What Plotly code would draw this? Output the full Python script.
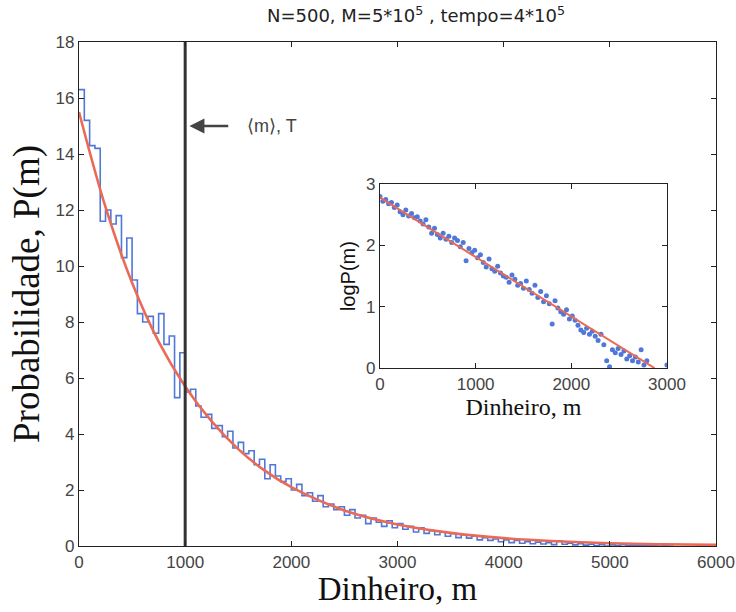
import plotly.graph_objects as go

# ---- main histogram (step line) ----
bin_start = [i * 50 for i in range(113)]
hist_vals = [16.3, 15.2, 14.3, 14.2, 11.6, 12.0, 11.5, 11.8, 10.3, 11.0,
             9.5, 8.3, 8.0, 8.2, 7.6, 8.3, 7.2, 7.5, 5.3, 6.9,
             5.5, 5.6, 5.0, 4.6, 4.7, 4.2, 4.3, 3.9, 4.1, 3.5,
             3.7, 3.3, 3.4, 2.9, 3.1, 2.4, 2.9, 2.5, 2.3, 2.4,
             2.0, 2.2, 1.8, 1.9, 1.6, 1.8, 1.4, 1.5, 1.3, 1.4,
             1.1, 1.3, 1.0, 1.1, 0.8, 1.0, 0.85, 0.7, 0.9, 0.65,
             0.8, 0.6, 0.7, 0.5, 0.65, 0.45, 0.55, 0.4, 0.5, 0.35,
             0.45, 0.3, 0.4, 0.28, 0.35, 0.22, 0.3, 0.2, 0.25, 0.15,
             0.22, 0.12, 0.2, 0.1, 0.15, 0.08, 0.14, 0.07, 0.12, 0.05,
             0.18, 0.06, 0.1, 0.04, 0.08, 0.03, 0.06, 0.02, 0.05, 0.0,
             0.04, 0.02, 0.05, 0.02, 0.03, 0.01, 0.03, 0.01, 0.02, 0.0,
             0.02, 0.0, 0.01]

# ---- fitted exponential (red) ----
fit_x = [0, 250, 500, 750, 1000, 1250, 1500, 1750, 2000, 2500, 3000,
         3500, 4000, 4500, 5000, 5500, 6000]
fit_y = [15.5, 12.1, 9.4, 7.3, 5.7, 4.45, 3.46, 2.69, 2.1, 1.27, 0.77,
         0.47, 0.28, 0.17, 0.10, 0.06, 0.04]

mean_m = 1000
arrow_y = 15.0

# ---- inset: log P(m) ----
ins_x = [0, 30, 60, 90, 120, 150, 180, 210, 240, 270, 300, 330, 360, 390, 420,
         450, 480, 510, 540, 570, 600, 630, 660, 690, 720, 750, 780, 810, 840,
         870, 900, 930, 960, 990, 1020, 1050, 1080, 1110, 1140, 1170, 1200,
         1230, 1260, 1290, 1320, 1350, 1380, 1410, 1440, 1470, 1500, 1530,
         1560, 1590, 1620, 1650, 1680, 1710, 1740, 1770, 1800, 1830, 1860,
         1890, 1920, 1950, 1980, 2010, 2040, 2070, 2100, 2130, 2160, 2190,
         2220, 2250, 2280, 2310, 2340, 2370, 2400, 2430, 2460, 2490, 2520,
         2550, 2580, 2610, 2640, 2670, 2700, 2730, 2760, 2790, 3000]
ins_y = [2.80, 2.72, 2.75, 2.68, 2.70, 2.62, 2.66, 2.55, 2.50, 2.58, 2.48,
         2.52, 2.45, 2.47, 2.40, 2.35, 2.42, 2.30, 2.20, 2.28, 2.18, 2.12,
         2.20, 2.10, 2.15, 2.05, 2.12, 2.08, 1.98, 2.05, 1.75, 1.95, 1.88,
         1.92, 1.80, 1.85, 1.72, 1.65, 1.78, 1.62, 1.58, 1.66, 1.55, 1.50,
         1.48, 1.40, 1.52, 1.45, 1.35, 1.38, 1.30, 1.42, 1.28, 1.22, 1.35,
         1.15, 1.25, 1.08, 1.18, 1.05, 0.72, 1.10, 0.98, 0.92, 0.88, 0.95,
         0.80, 0.85, 0.78, 0.70, 0.62, 0.58, 0.65, 0.55, 0.60, 0.52, 0.45,
         0.55, 0.38, 0.12, 0.02, 0.30, 0.25, 0.32, 0.22, 0.28, 0.15, 0.20,
         0.12, 0.18, 0.10, 0.30, 0.05, 0.12, 0.05]
ins_fit_x = [0, 2870]
ins_fit_y = [2.78, 0.0]

BLUE = "#5078d8"
RED = "#ea6a55"
AX = "#222222"

fig = go.Figure()
fig.add_trace(go.Scatter(x=bin_start, y=hist_vals, mode="lines",
                         line=dict(color=BLUE, width=1.6, shape="hv"),
                         showlegend=False))
fig.add_trace(go.Scatter(x=fit_x, y=fit_y, mode="lines",
                         line=dict(color=RED, width=2.6, shape="spline"),
                         showlegend=False))
fig.add_trace(go.Scatter(x=[mean_m, mean_m], y=[0, 18], mode="lines",
                         line=dict(color="#333333", width=3),
                         showlegend=False))
# inset
fig.add_trace(go.Scatter(x=ins_x, y=ins_y, mode="markers", xaxis="x2", yaxis="y2",
                         marker=dict(color=BLUE, size=5), showlegend=False))
fig.add_trace(go.Scatter(x=ins_fit_x, y=ins_fit_y, mode="lines", xaxis="x2", yaxis="y2",
                         line=dict(color=RED, width=2), showlegend=False))

fig.add_annotation(x=1040, y=arrow_y, ax=1420, ay=arrow_y, xref="x", yref="y",
                   axref="x", ayref="y", showarrow=True, arrowhead=2,
                   arrowsize=1.2, arrowwidth=2.5, arrowcolor="#444444", text="")
fig.add_annotation(x=1560, y=arrow_y, xref="x", yref="y", text="⟨m⟩, T",
                   showarrow=False, xanchor="left",
                   font=dict(family="Liberation Sans", size=18, color="#444444"))

axis_common = dict(showline=True, mirror="ticks", linecolor=AX, linewidth=1.2,
                   ticks="inside", ticklen=5, tickcolor=AX, showgrid=False,
                   zeroline=False, automargin=False,
                   tickfont=dict(family="Liberation Sans", size=17, color="#444444"))

fig.update_layout(
    width=736, height=612,
    paper_bgcolor="white", plot_bgcolor="white",
    margin=dict(l=79, r=20, t=42, b=66),
    title=dict(text="N=500, M=5*10<sup>5</sup> , tempo=4*10<sup>5</sup>",
               x=416 / 736, xanchor="center", y=0.974, yanchor="middle",
               font=dict(family="DejaVu Sans", size=18, color="#222222")),
    xaxis=dict(range=[0, 6000], tickvals=[0, 1000, 2000, 3000, 4000, 5000, 6000],
               title=dict(text="Dinheiro, m", standoff=2,
                          font=dict(family="Liberation Serif", size=33, color="#111111")),
               **axis_common),
    yaxis=dict(range=[0, 18], tickvals=list(range(0, 19, 2)),
               title=dict(text="Probabilidade, P(m)", standoff=4,
                          font=dict(family="Liberation Serif", size=37, color="#111111")),
               **axis_common),
    xaxis2=dict(domain=[0.4725, 0.923], anchor="y2", range=[0, 3000],
                tickvals=[0, 1000, 2000, 3000],
                title=dict(text="Dinheiro, m", standoff=2,
                           font=dict(family="Liberation Serif", size=24, color="#111111")),
                **axis_common),
    yaxis2=dict(domain=[0.353, 0.718], anchor="x2", range=[0, 3],
                tickvals=[0, 1, 2, 3],
                title=dict(text="logP(m)", standoff=4,
                           font=dict(family="Liberation Sans", size=20, color="#111111")),
                **axis_common),
)

fig.write_html("out.html")
